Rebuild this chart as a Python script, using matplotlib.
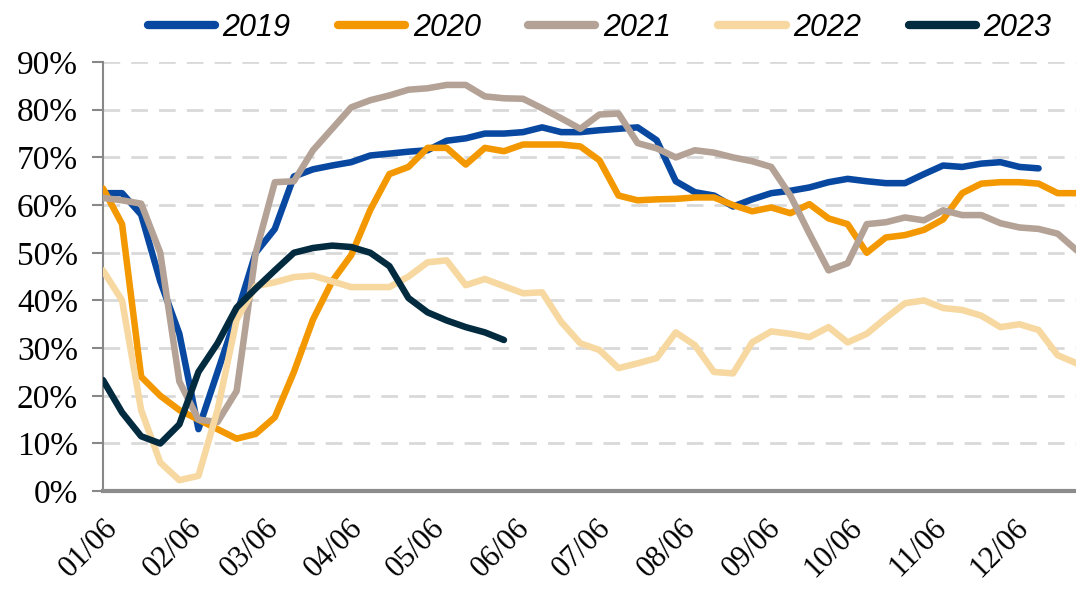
import matplotlib
matplotlib.use("Agg")
import matplotlib.pyplot as plt
import matplotlib.transforms as mtransforms
import pandas as pd

# weekly values (%), first point = week of 01/06
y2019 = [62.5, 62.5, 58, 44, 33, 13, 25, 37, 50, 55, 66, 67.5, 68.3, 69, 70.4,
         70.8, 71.2, 71.5, 73.5, 74, 75, 75, 75.3, 76.3, 75.3, 75.3, 75.7, 76,
         76.3, 73.6, 65, 62.7, 62, 59.7, 61.2, 62.5, 63, 63.7, 64.8, 65.5, 65,
         64.6, 64.6, 66.5, 68.3, 68, 68.7, 69, 68, 67.7]
y2020 = [63.5, 56, 24, 20, 17, 15, 13, 11, 12, 15.5, 25, 36, 44, 49.5, 59,
         66.5, 68, 72, 72, 68.5, 72, 71.3, 72.7, 72.7, 72.7, 72.3, 69.4, 62, 61,
         61.2, 61.3, 61.6, 61.6, 60, 58.7, 59.5, 58.3, 60.2, 57.2, 56, 50, 53.2,
         53.7, 54.8, 57, 62.5, 64.5, 64.8, 64.8, 64.5, 62.5, 62.5]
y2021 = [61.5, 61, 60.3, 50, 23, 15, 14.5, 21, 50, 64.8, 65, 71.5, 76, 80.5,
         82, 83, 84.2, 84.5, 85.2, 85.2, 82.8, 82.4, 82.3, 80.3, 78.2, 76, 79,
         79.2, 73, 71.9, 70, 71.5, 71, 70, 69.2, 68, 62, 54, 46.3, 47.8, 56,
         56.4, 57.4, 56.8, 58.9, 57.9, 57.9, 56.2, 55.3, 55, 54, 50.5]
y2022 = [46.3, 40, 17, 6, 2.3, 3.2, 17, 36, 43, 43.8, 44.9, 45.2, 44, 42.8,
         42.8, 42.8, 45, 48, 48.4, 43.2, 44.5, 43, 41.5, 41.7, 35.5, 31, 29.6,
         25.8, 26.8, 27.9, 33.3, 30.6, 25, 24.7, 31.2, 33.5, 33, 32.3, 34.4,
         31.2, 33, 36.3, 39.4, 40, 38.4, 38, 36.8, 34.4, 35, 33.8, 28.5, 26.8]
y2023 = [23.3, 16.5, 11.5, 10, 14, 25, 31, 38.5, 42.5, 46.3, 50, 51, 51.5,
         51.2, 50, 47.2, 40.5, 37.5, 35.8, 34.4, 33.3, 31.7]

series = {"2019": y2019, "2020": y2020, "2021": y2021, "2022": y2022, "2023": y2023}
colors = {"2019": "#0848A0", "2020": "#F39800", "2021": "#B4A296",
          "2022": "#F6D8A0", "2023": "#032B40"}

x_labels = ["01/06", "02/06", "03/06", "04/06", "05/06", "06/06",
            "07/06", "08/06", "09/06", "10/06", "11/06", "12/06"]
y_ticks = [0, 10, 20, 30, 40, 50, 60, 70, 80, 90]

start = pd.Timestamp("2019-01-06")
x_pos = [(pd.Timestamp(f"2019-{m:02d}-06") - start).days / 7 for m in range(1, 13)]

fig = plt.figure(figsize=(10.76, 5.91), dpi=100)
ax = fig.add_axes([0.0957, 0.169, 0.905, 0.726])

for name, vals in series.items():
    ax.plot(range(len(vals)), vals, color=colors[name], lw=4.7, label=name,
            solid_capstyle="round", solid_joinstyle="round", zorder=3)

ax.set_xlim(0, 51)
ax.set_ylim(0, 90)
ax.set_yticks(y_ticks)
ax.set_yticklabels([f"{v}%" for v in y_ticks], family="Liberation Serif", fontsize=24)
ax.set_xticks(x_pos)
ax.set_xticklabels(x_labels, family="Liberation Serif", fontsize=22,
                   rotation=45, ha="right", va="top", rotation_mode="anchor")
shift = mtransforms.ScaledTranslation(-7 / 100, 0, fig.dpi_scale_trans)
for lbl in ax.get_xticklabels():
    lbl.set_transform(lbl.get_transform() + shift)

for v in y_ticks[1:]:
    ax.axhline(v, color="#D9D9D9", lw=2, dashes=(6, 4), zorder=1)

for s in ["top", "right"]:
    ax.spines[s].set_visible(False)
ax.spines["left"].set_color("#888888")
ax.spines["left"].set_linewidth(1.5)
ax.spines["bottom"].set_color("#8C8C8C")
ax.spines["bottom"].set_linewidth(3)
ax.tick_params(axis="y", direction="out", length=8, width=1.5, color="#888888", pad=10)
ax.tick_params(axis="x", length=0, pad=16)

leg = ax.legend(loc="center", bbox_to_anchor=(0.51, 1.079), ncol=5, frameon=False,
                handlelength=2.2, handletextpad=0.25, columnspacing=1.55,
                prop={"family": "Liberation Sans", "style": "italic", "size": 22})
for h in leg.get_lines():
    h.set_linewidth(6)

fig.savefig("out.png", dpi=100)
